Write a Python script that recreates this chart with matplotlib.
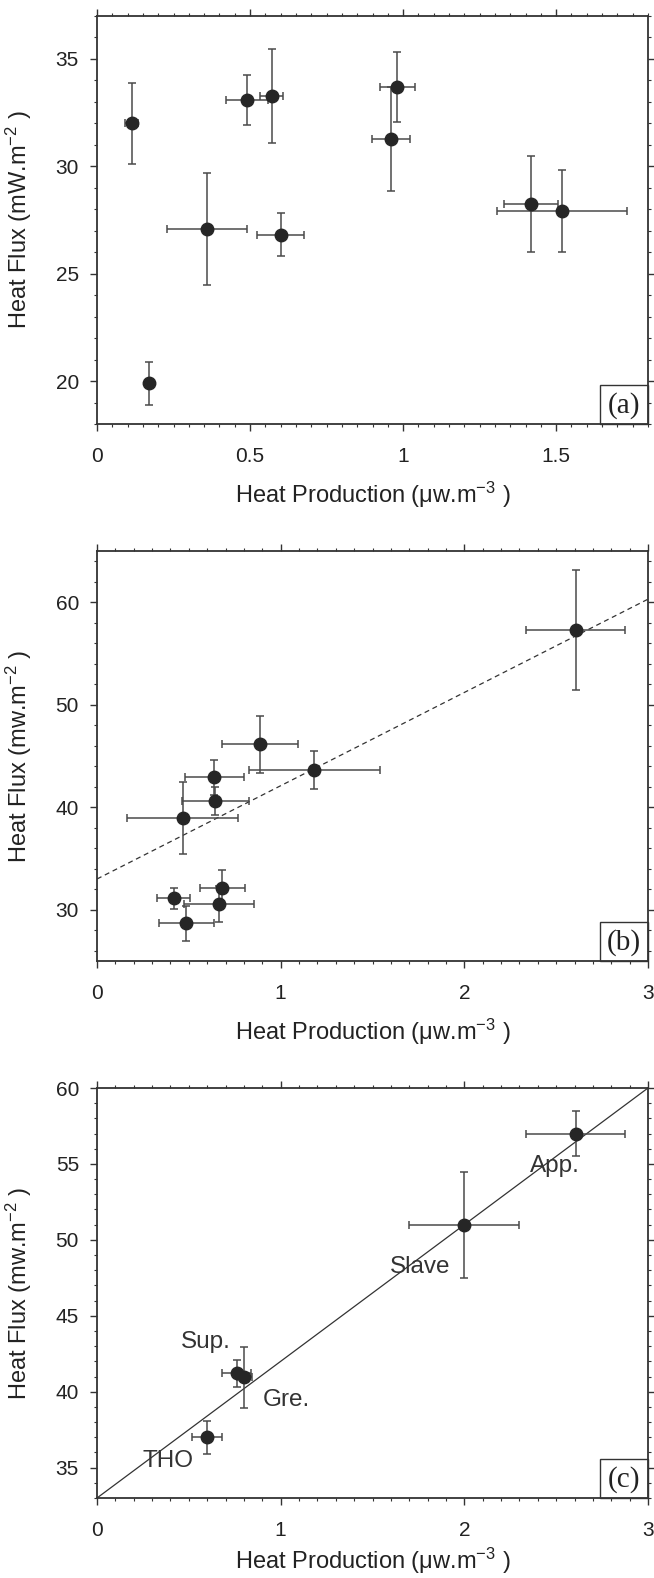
import matplotlib
matplotlib.use("Agg")
import matplotlib.pyplot as plt
from matplotlib.ticker import MultipleLocator, FuncFormatter
from matplotlib.patches import Rectangle

# panel (a)
a_x = [0.113, 0.171, 0.36, 0.49, 0.571, 0.60, 0.959, 0.981, 1.418, 1.519]
a_y = [32.0, 19.9, 27.08, 33.09, 33.28, 26.82, 31.28, 33.69, 28.25, 27.92]
a_xerr = [0.021, 0.0, 0.13, 0.067, 0.037, 0.076, 0.062, 0.058, 0.087, 0.213]
a_yerr = [1.9, 1.0, 2.6, 1.17, 2.2, 1.0, 2.43, 1.63, 2.25, 1.9]

# panel (b)
b_x = [2.607, 0.886, 1.184, 0.639, 0.643, 0.466, 0.682, 0.418, 0.666, 0.486]
b_y = [57.31, 46.15, 43.62, 42.91, 40.64, 38.95, 32.14, 31.1, 30.52, 28.7]
b_xerr = [0.27, 0.207, 0.355, 0.16, 0.182, 0.3, 0.123, 0.09, 0.19, 0.15]
b_yerr = [5.85, 2.8, 1.87, 1.7, 1.35, 3.5, 1.7, 1.0, 1.76, 1.7]
b_fit = (33.0, 9.1)  # intercept, slope

# panel (c)
c_names = ["App.", "Slave", "Sup.", "Gre.", "THO"]
c_x = [2.607, 2.0, 0.761, 0.802, 0.598]
c_y = [57.0, 51.0, 41.22, 40.95, 37.0]
c_xerr = [0.27, 0.3, 0.08, 0.04, 0.08]
c_yerr = [1.5, 3.5, 0.9, 2.0, 1.1]
c_fit = (33.0, 9.0)
c_offsets = [(-46, -32), (-74, -42), (-56, 31), (18, -23), (-64, -24)]

plt.rcParams["font.family"] = ["Liberation Sans", "DejaVu Sans"]
plt.rcParams["mathtext.default"] = "regular"

W, H = 654, 1578
fig = plt.figure(figsize=(W / 100, H / 100), dpi=100)

INK = "#262626"
BAR = "#4a4a4a"
xlab = r"Heat Production ($\mu$w.m$^{-3}$ )"


def make_axes(top, bottom):
    left, right = 97, 648
    return fig.add_axes([left / W, 1 - bottom / H, (right - left) / W, (bottom - top) / H])


def style(ax, xlim, ylim, xmaj, xmin, ymaj, ymin, ylabel, tag, xpad=10):
    ax.set_xlim(*xlim)
    ax.set_ylim(*ylim)
    ax.xaxis.set_major_locator(MultipleLocator(xmaj))
    ax.xaxis.set_minor_locator(MultipleLocator(xmin))
    ax.yaxis.set_major_locator(MultipleLocator(ymaj))
    ax.yaxis.set_minor_locator(MultipleLocator(ymin))
    ax.xaxis.set_major_formatter(FuncFormatter(lambda v, p: f"{v:g}"))
    ax.tick_params(which="both", direction="out", top=True, right=True,
                   color="#333333", labelsize=15, labelcolor="#222222")
    ax.tick_params(which="major", length=5, width=1.0)
    ax.tick_params(which="minor", length=2.5, width=0.8)
    ax.tick_params(axis="x", which="major", pad=11.5)
    ax.tick_params(axis="y", which="major", pad=8)
    for s in ax.spines.values():
        s.set_linewidth(1.3)
        s.set_color("#333333")
    ax.set_xlabel(xlab, fontsize=17, color="#222222", labelpad=xpad)
    ax.set_ylabel(ylabel, fontsize=17, color="#222222")
    ax.yaxis.set_label_coords(-0.115, 0.5)
    ax.add_patch(Rectangle((0.913, 0.0), 0.087, 0.095, transform=ax.transAxes,
                           fill=False, lw=1.0, ec="#333333", clip_on=False, zorder=5))
    ax.text(0.9565, 0.046, tag, transform=ax.transAxes, ha="center", va="center",
            fontsize=21, family=["Liberation Serif"], color="#222222", zorder=6)


def points(ax, x, y, xerr, yerr):
    ax.errorbar(x, y, xerr=xerr, yerr=yerr, fmt="o", ms=9, mfc=INK, mec=INK,
                ecolor=BAR, elinewidth=1.1, capsize=3, capthick=1.1, zorder=3)


# (a)
ax1 = make_axes(16, 424)
points(ax1, a_x, a_y, a_xerr, a_yerr)
style(ax1, (0, 1.8), (18, 37), 0.5, 0.05, 5, 1, r"Heat Flux (mW.m$^{-2}$ )", "(a)")

# (b)
ax2 = make_axes(551, 961)
xs = [0, 3]
ax2.plot(xs, [b_fit[0] + b_fit[1] * v for v in xs], ls=(0, (4, 3)), color="#333333", lw=0.9)
points(ax2, b_x, b_y, b_xerr, b_yerr)
style(ax2, (0, 3), (25, 65), 1, 0.1, 10, 2, r"Heat Flux (mw.m$^{-2}$ )", "(b)")

# (c)
ax3 = make_axes(1088, 1498)
ax3.plot(xs, [c_fit[0] + c_fit[1] * v for v in xs], color="#333333", lw=0.9)
points(ax3, c_x, c_y, c_xerr, c_yerr)
for name, x, y, off in zip(c_names, c_x, c_y, c_offsets):
    ax3.annotate(name, (x, y), xytext=off, textcoords="offset pixels",
                 ha="left", va="center", fontsize=17.5, color="#333333")
style(ax3, (0, 3), (33, 60), 1, 0.1, 5, 1, r"Heat Flux (mw.m$^{-2}$ )", "(c)", xpad=4)

fig.savefig("out.png", dpi=100)
